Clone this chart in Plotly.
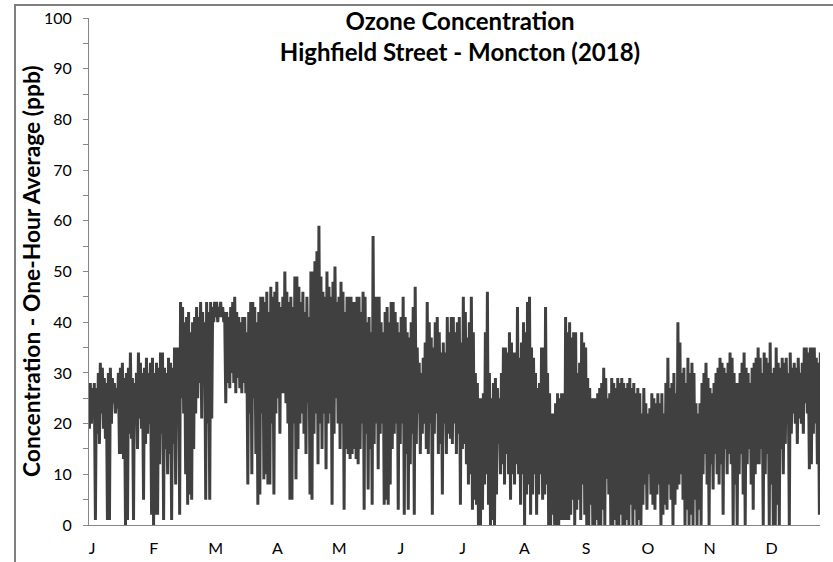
import plotly.graph_objects as go

# ---- data: daily high / low one-hour ozone (ppb) ----
jan_hi = [28,27,28,27,30,32,31,29,28,30,31,29,28,27,30,31,32,29,30,31,34,29,28,30,34,32,30,31,33,30,32]
jan_lo = [19,20,22,1,18,16,22,19,17,1,1,20,24,22,23,14,14,13,0,1,18,17,1,20,15,21,19,5,16,18,20]
feb_hi = [33,30,32,31,34,34,31,30,33,32,31,35,35,35,44,43,40,41,42,38,40,41,43,41,44,42,40,44]
feb_lo = [2,0,2,2,12,18,1,15,10,14,1,16,8,20,2,25,22,10,4,6,5,15,22,25,28,21,30,5]
mar_hi = [42,44,43,44,44,43,44,43,42,42,41,43,44,45,42,41,40,41,41,38,42,44,44,43,40,42,45,45,44,46,42]
mar_lo = [20,5,21,40,41,40,41,41,40,24,28,27,30,28,26,29,27,26,28,26,8,22,10,25,14,4,6,22,9,10,8]
apr_hi = [47,45,46,48,44,43,45,50,46,44,45,43,49,49,47,44,46,42,45,41,50,50,52,54,59,49,46,45,50,47]
apr_lo = [8,20,6,22,25,18,26,26,24,20,5,5,20,9,15,20,22,18,14,24,6,5,18,22,12,20,15,22,11,20]
may_hi = [45,48,51,44,45,48,46,42,45,45,45,44,44,45,45,42,46,45,40,41,38,57,45,45,45,40,38,42,43,40,44]
may_lo = [22,4,18,25,20,15,20,3,15,14,13,14,15,13,12,15,20,3,18,7,15,4,16,20,11,18,20,4,5,4,8]
jun_hi = [44,42,40,38,41,45,41,38,37,40,43,47,35,32,30,33,36,44,40,37,35,40,41,38,34,36,34,41,38,41]
jun_lo = [15,18,20,3,16,20,2,14,3,12,18,2,16,22,14,18,20,15,14,20,2,18,22,14,16,6,20,14,18,17]
jul_hi = [41,38,40,41,36,45,42,37,40,45,38,30,28,25,25,26,38,46,30,25,28,29,27,25,30,35,35,34,38,36,34]
jul_lo = [16,20,14,18,4,15,16,12,8,10,3,5,4,0,0,3,8,10,4,0,1,0,6,16,10,12,8,14,10,5,10]
aug_hi = [34,43,33,36,40,38,44,45,35,33,30,27,28,35,35,43,30,26,22,22,24,26,25,26,26,41,38,40,37,38,38]
aug_lo = [8,12,10,4,10,0,6,8,2,6,10,2,6,10,5,6,8,0,0,2,0,0,0,1,1,1,1,1,2,5,0]
sep_hi = [30,32,38,36,35,29,27,25,25,25,26,27,28,31,29,25,26,29,28,27,29,28,29,28,27,28,29,27,28,26]
sep_lo = [3,5,1,8,2,0,0,4,0,0,1,0,0,3,0,9,6,0,0,1,0,0,2,0,0,1,0,4,0,3]
oct_hi = [27,26,22,27,24,22,23,26,25,24,26,24,26,22,28,33,27,28,30,26,40,36,30,31,28,33,30,32,30,24,22]
oct_lo = [0,1,0,4,8,3,10,6,4,3,6,8,0,2,4,3,8,5,0,4,7,8,10,5,0,3,0,2,0,5,0]
nov_hi = [24,28,30,32,29,27,26,28,30,31,33,32,31,30,32,34,33,30,28,28,30,32,34,31,30,28,31,32,33,35]
nov_lo = [3,0,10,14,8,0,12,7,14,10,8,12,2,15,10,14,12,0,8,0,10,14,6,0,12,15,8,3,10,12]
dec_hi = [33,30,34,33,32,36,30,31,35,32,31,33,32,33,30,34,31,32,31,33,30,32,35,35,34,35,35,35,33,32,34]
dec_lo = [12,15,0,10,14,0,8,0,0,4,0,15,10,16,20,0,18,22,20,16,21,20,18,24,22,11,12,18,20,12,2]

month_labels = ["J", "F", "M", "A", "M", "J", "J", "A", "S", "O", "N", "D"]

highs = (jan_hi + feb_hi + mar_hi + apr_hi + may_hi + jun_hi +
         jul_hi + aug_hi + sep_hi + oct_hi + nov_hi + dec_hi)
lows = (jan_lo + feb_lo + mar_lo + apr_lo + may_lo + jun_lo +
        jul_lo + aug_lo + sep_lo + oct_lo + nov_lo + dec_lo)

# alternating low (early morning) / high (afternoon) sequence per day
xs, ys = [], []
for d, (lo, hi) in enumerate(zip(lows, highs)):
    xs.append(d + 0.2)
    ys.append(lo)
    xs.append(d + 0.65)
    ys.append(hi)

fig = go.Figure()
fig.add_trace(go.Scatter(
    x=xs, y=ys, mode="lines",
    line=dict(color="#404040", width=3),
    hoverinfo="skip", showlegend=False,
))

tick_pos = [1.5 + 30.8 * i for i in range(len(month_labels))]

FONT = "Lato, Carlito, sans-serif"
axis_grey = "#868686"
W, H = 833, 562
L, R, T, B = 89, 13, 18, 37
PW, PH = W - L - R, H - T - B

fig.update_layout(
    width=W, height=H,
    margin=dict(l=L, r=R, t=T, b=B, autoexpand=False),
    paper_bgcolor="white", plot_bgcolor="white",
    font=dict(family=FONT, color="#000000", size=16),
    showlegend=False,
    title=dict(
        text="Ozone Concentration<br>Highfield Street - Moncton (2018)",
        x=460 / W, xanchor="center",
        y=1 - 30 / H, yanchor="middle",
        font=dict(family=FONT, size=24, color="#000000", weight=700),
    ),
    xaxis=dict(
        range=[0, 364.5], showgrid=False, zeroline=False, automargin=False,
        showline=True, linecolor=axis_grey, linewidth=1,
        tickmode="array", tickvals=tick_pos, ticktext=month_labels,
        ticks="", tickfont=dict(size=16), ticklabelstandoff=9,
    ),
    yaxis=dict(
        range=[0, 100], showgrid=False, zeroline=False, automargin=False,
        showline=True, linecolor=axis_grey, linewidth=1,
        tickmode="linear", tick0=0, dtick=10,
        ticks="outside", ticklen=5, tickcolor=axis_grey,
        minor=dict(dtick=5, ticks="outside", ticklen=5, tickcolor=axis_grey),
        tickfont=dict(size=16), ticklabelstandoff=8,
    ),
)

# y-axis title as an annotation so it can sit exactly where the reference has it
fig.add_annotation(
    text="Concentration - One-Hour Average (ppb)",
    xref="paper", yref="paper",
    x=(31 - L) / PW, y=(525 - 272) / PH,
    xanchor="center", yanchor="middle", textangle=-90, showarrow=False,
    font=dict(family=FONT, size=22.8, weight=700, color="#000000"),
)

# outer chart frame (partly cropped in the reference)
fig.add_shape(
    type="rect", xref="paper", yref="paper",
    x0=(15 - L) / PW, x1=(845 - L) / PW,
    y0=(525 - 575) / PH, y1=(525 - 5) / PH,
    line=dict(color="#7f7f7f", width=2), layer="above",
)

# remove the browser's default page margin so the figure sits at (0, 0)
fig.write_html("out.html", config={"displayModeBar": False},
               post_script="document.body.style.margin='0';")
